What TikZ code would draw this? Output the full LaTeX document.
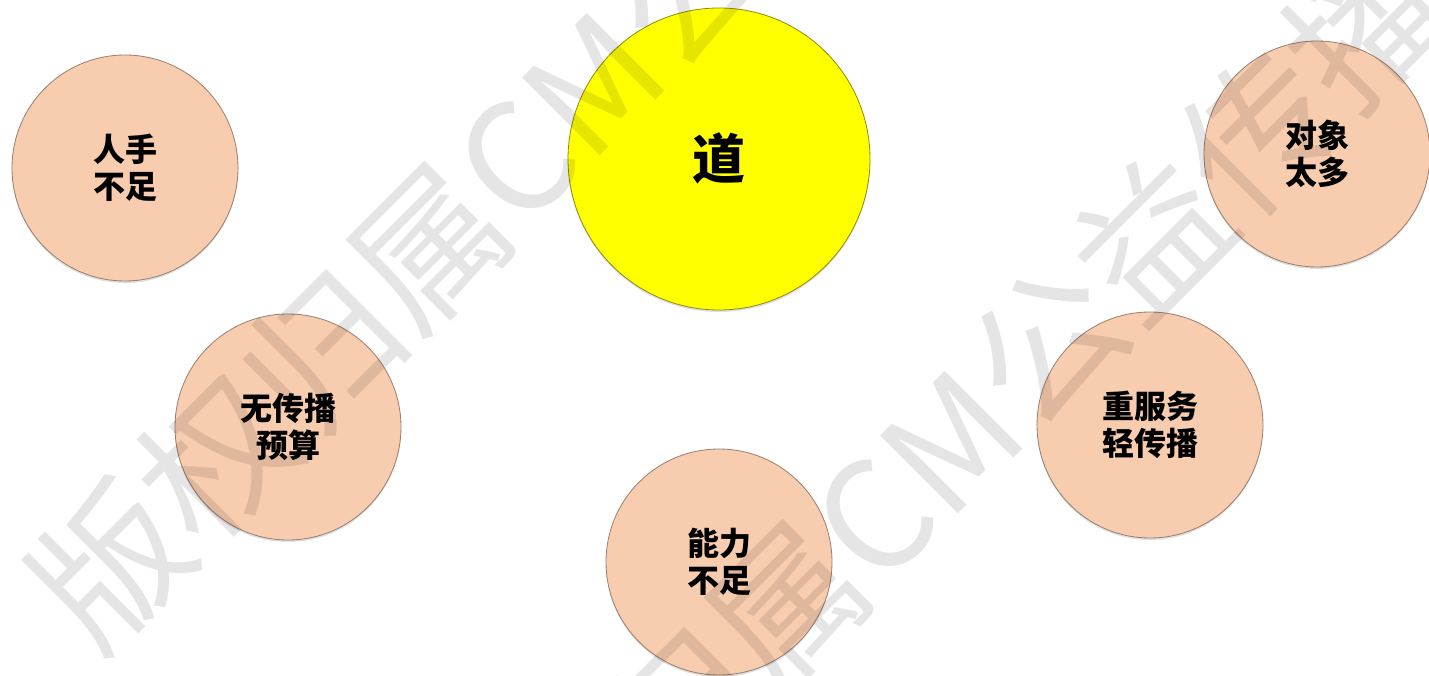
\documentclass[tikz,border=0pt]{standalone}
\usepackage{fontspec}
\newfontfamily\cjk{Noto Sans CJK SC}
\usetikzlibrary{shadows}
\definecolor{peach}{HTML}{F8CCAE}
\definecolor{peachline}{HTML}{9A7E6E}
\definecolor{yel}{HTML}{FFFF00}
\definecolor{yelline}{HTML}{8C8C10}
\tikzset{
  bubble/.style={circle, minimum size=226pt, inner sep=0pt, fill=peach, draw=peachline, line width=0.8pt,
    drop shadow={opacity=0.25, shadow xshift=0pt, shadow yshift=-2pt},
    align=center, font=\cjk\bfseries\fontsize{32}{37}\selectfont},
  bigbubble/.style={circle, minimum size=302pt, inner sep=0pt, fill=yel, draw=yelline, line width=0.8pt,
    drop shadow={opacity=0.25, shadow xshift=0pt, shadow yshift=-2pt},
    font=\cjk\bfseries\fontsize{53}{60}\selectfont},
  wmark/.style={rotate=45, anchor=west, inner sep=0pt, text=black, text opacity=0.1,
    font=\cjk\fontsize{150}{150}\selectfont}
}
\begin{document}
\begin{tikzpicture}[x=1pt, y=-1pt]
\useasboundingbox (0,0) rectangle (1429,676);
\fill[white] (0,0) rectangle (1429,676);
\node[bubble] (hr) at (125,168) {人手\\不足};
\node[bigbubble] (dao) at (719,159) {\raisebox{6pt}{道}};
\node[bubble] (dx) at (1317,154) {对象\\太多};
\node[bubble] (wc) at (288,427) {无传播\\预算};
\node[bubble] (zf) at (1150,425) {重服务\\轻传播};
\node[bubble] (nl) at (719,562) {能力\\不足};
\node[wmark] (wm1) at (57,618) {版权归属CM公益传播};
\node[wmark] (wm2) at (415,976) {版权归属CM公益传播};
\end{tikzpicture}
\end{document}
